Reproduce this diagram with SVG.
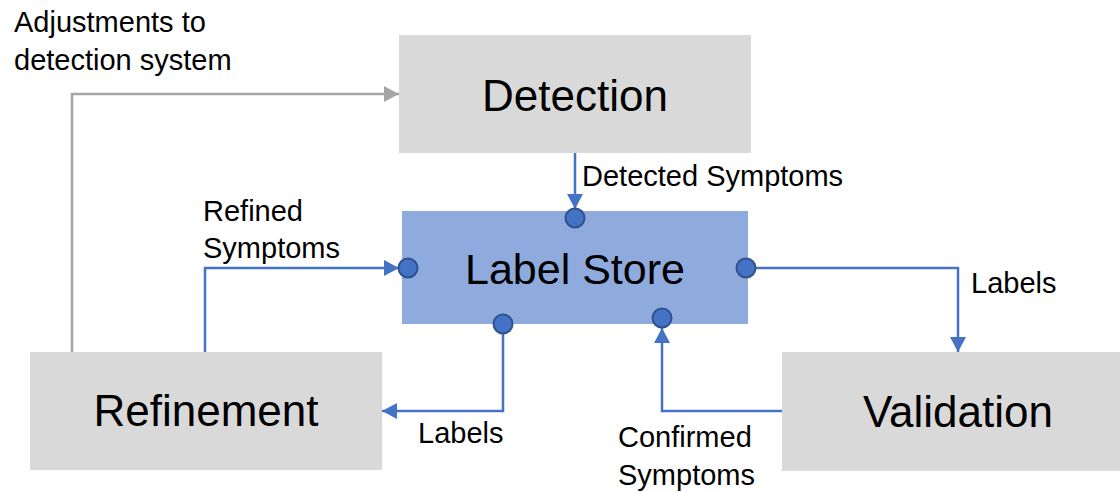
<svg xmlns="http://www.w3.org/2000/svg" width="1120" height="492" viewBox="0 0 1120 492">
<style>
.box{fill:#D9D9D9}
.store{fill:#8FAADC}
.big{font-family:"Liberation Sans",Arial,sans-serif;font-size:44px;fill:#000;text-anchor:middle}
.lbl{font-family:"Liberation Sans",Arial,sans-serif;font-size:29px;fill:#000}
.blue{fill:none;stroke:#4472C4;stroke-width:2.5}
.grey{fill:none;stroke:#A5A5A5;stroke-width:2.5}
.dot{fill:#4472C4;stroke:#2F528F;stroke-width:2}
</style>
<defs>
<marker id="ab" markerUnits="userSpaceOnUse" markerWidth="16" markerHeight="16" refX="15" refY="8" orient="auto"><path d="M0,0 L15,8 L0,16 z" fill="#4472C4"/></marker>
<marker id="ag" markerUnits="userSpaceOnUse" markerWidth="16" markerHeight="16" refX="15" refY="8" orient="auto"><path d="M0,0 L15,8 L0,16 z" fill="#A5A5A5"/></marker>
</defs>
<g id="detection"><rect class="box" x="399" y="35" width="352" height="118"/><text class="big" x="575" y="111">Detection</text></g>
<g id="label-store"><rect class="store" x="402" y="211" width="346" height="113"/><text class="big" x="575" y="284" style="font-size:43px">Label Store</text></g>
<g id="refinement"><rect class="box" x="30" y="352" width="352" height="118"/><text class="big" x="206" y="426">Refinement</text></g>
<g id="validation"><rect class="box" x="782" y="352" width="338" height="119"/><text class="big" x="958" y="427">Validation</text></g>
<g id="connectors">
<path class="grey" d="M72,352 V94 H399" marker-end="url(#ag)"/>
<path class="blue" d="M575,153 V209" marker-end="url(#ab)"/>
<path class="blue" d="M205,352 V268 H399" marker-end="url(#ab)"/>
<path class="blue" d="M746,268 H958 V352" marker-end="url(#ab)"/>
<path class="blue" d="M503,324 V411 H382" marker-end="url(#ab)"/>
<path class="blue" d="M782,411 H662 V328" marker-end="url(#ab)"/>
<circle class="dot" cx="575" cy="218" r="9.5"/>
<circle class="dot" cx="408" cy="268" r="9.5"/>
<circle class="dot" cx="746" cy="268" r="9.5"/>
<circle class="dot" cx="503" cy="324" r="9.5"/>
<circle class="dot" cx="662" cy="318" r="9.5"/>
</g>
<g id="labels">
<text class="lbl" x="14" y="32">Adjustments to</text>
<text class="lbl" x="14" y="70">detection system</text>
<text class="lbl" x="582" y="186">Detected Symptoms</text>
<text class="lbl" x="203" y="221">Refined</text>
<text class="lbl" x="203" y="258">Symptoms</text>
<text class="lbl" x="971" y="293">Labels</text>
<text class="lbl" x="418" y="443">Labels</text>
<text class="lbl" x="618" y="447">Confirmed</text>
<text class="lbl" x="618" y="485">Symptoms</text>
</g>
</svg>
